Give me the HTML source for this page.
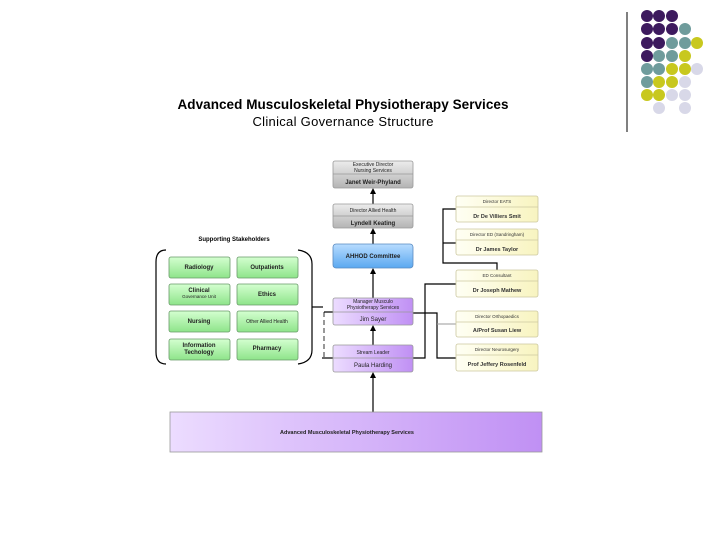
<!DOCTYPE html>
<html><head><meta charset="utf-8"><style>
body{margin:0;background:#fff}
text{font-family:"Liberation Sans",sans-serif}
</style></head><body>
<svg width="720" height="540" xmlns="http://www.w3.org/2000/svg">
<defs>
<linearGradient id="gr" x1="0" y1="0" x2="0" y2="1"><stop offset="0" stop-color="#ececec"/><stop offset="1" stop-color="#b4b4b4"/></linearGradient>
<linearGradient id="bl" x1="0" y1="0" x2="0" y2="1"><stop offset="0" stop-color="#b8dcff"/><stop offset="1" stop-color="#5aa8f0"/></linearGradient>
<linearGradient id="pu" x1="0" y1="0" x2="1" y2="0"><stop offset="0" stop-color="#ecdcff"/><stop offset="1" stop-color="#c090f4"/></linearGradient>
<linearGradient id="gn" x1="0" y1="0" x2="0" y2="1"><stop offset="0" stop-color="#d4ffd0"/><stop offset="1" stop-color="#8ee48a"/></linearGradient>
<linearGradient id="ye" x1="0" y1="0" x2="1" y2="0"><stop offset="0" stop-color="#fffff4"/><stop offset="1" stop-color="#f8f4c0"/></linearGradient>
</defs>
<line x1="627" y1="12" x2="627" y2="132" stroke="#000" stroke-width="1"/>
<g>
<circle cx="647" cy="16" r="6" fill="#3d1a5e"/><circle cx="659" cy="16" r="6" fill="#3d1a5e"/><circle cx="672" cy="16" r="6" fill="#3d1a5e"/>
<circle cx="647" cy="29" r="6" fill="#3d1a5e"/><circle cx="659" cy="29" r="6" fill="#3d1a5e"/><circle cx="672" cy="29" r="6" fill="#3d1a5e"/><circle cx="685" cy="29" r="6" fill="#6f9c9c"/>
<circle cx="647" cy="43" r="6" fill="#3d1a5e"/><circle cx="659" cy="43" r="6" fill="#3d1a5e"/><circle cx="672" cy="43" r="6" fill="#6f9c9c"/><circle cx="685" cy="43" r="6" fill="#6f9c9c"/><circle cx="697" cy="43" r="6" fill="#c8c81e"/>
<circle cx="647" cy="56" r="6" fill="#3d1a5e"/><circle cx="659" cy="56" r="6" fill="#6f9c9c"/><circle cx="672" cy="56" r="6" fill="#6f9c9c"/><circle cx="685" cy="56" r="6" fill="#c8c81e"/>
<circle cx="647" cy="69" r="6" fill="#6f9c9c"/><circle cx="659" cy="69" r="6" fill="#6f9c9c"/><circle cx="672" cy="69" r="6" fill="#c8c81e"/><circle cx="685" cy="69" r="6" fill="#c8c81e"/><circle cx="697" cy="69" r="6" fill="#d8d8e8"/>
<circle cx="647" cy="82" r="6" fill="#6f9c9c"/><circle cx="659" cy="82" r="6" fill="#c8c81e"/><circle cx="672" cy="82" r="6" fill="#c8c81e"/><circle cx="685" cy="82" r="6" fill="#d8d8e8"/>
<circle cx="647" cy="95" r="6" fill="#c8c81e"/><circle cx="659" cy="95" r="6" fill="#c8c81e"/><circle cx="672" cy="95" r="6" fill="#d8d8e8"/><circle cx="685" cy="95" r="6" fill="#d8d8e8"/>
<circle cx="659" cy="108" r="6" fill="#d8d8e8"/><circle cx="685" cy="108" r="6" fill="#d8d8e8"/>
</g>
<text x="343" y="109" text-anchor="middle" font-size="13.5" font-weight="bold" textLength="331">Advanced Musculoskeletal Physiotherapy Services</text>
<text x="343" y="126" text-anchor="middle" font-size="13" textLength="181">Clinical Governance Structure</text>

<!-- connectors -->
<g stroke="#000" stroke-width="1.2" fill="none">
<line x1="373" y1="412" x2="373" y2="374"/>
<line x1="373" y1="345" x2="373" y2="327"/>
<line x1="373" y1="298" x2="373" y2="270"/>
<line x1="373" y1="244" x2="373" y2="230"/>
<line x1="373" y1="204" x2="373" y2="190"/>
<polyline points="312,307 323,307"/>
<line x1="324" y1="312" x2="324" y2="358" stroke-dasharray="5,3" stroke="#555"/>
<line x1="324" y1="312" x2="333" y2="312"/>
<line x1="322" y1="358" x2="333" y2="358"/>
<polyline points="413,313 437,313 437,358 456,358"/>
<polyline points="413,358 425,358 425,284 456,284" />
<polyline points="456,209 443,209 443,263 497,263 497,270"/>
<line x1="443" y1="243" x2="456" y2="243"/>
</g>
<line x1="437" y1="324" x2="456" y2="324" stroke="#999"/>
<g fill="#000">
<polygon points="373,372 370,378 376,378"/><polygon points="373,325 370,331 376,331"/>
<polygon points="373,268 370,274 376,274"/><polygon points="373,228 370,234 376,234"/>
<polygon points="373,188 370,194 376,194"/>
</g>

<!-- center boxes -->
<g stroke="#999" stroke-width="0.8" font-size="5.5" text-anchor="middle">
<rect x="333" y="161" width="80" height="27" rx="2" fill="url(#gr)"/><line x1="333" y1="174" x2="413" y2="174"/>
<rect x="333" y="204" width="80" height="24" rx="2" fill="url(#gr)"/><line x1="333" y1="216" x2="413" y2="216"/>
<rect x="333" y="244" width="80" height="24" rx="3" fill="url(#bl)" stroke="#5a8ac0"/>
<rect x="333" y="298" width="80" height="27" rx="2" fill="url(#pu)"/><line x1="333" y1="312" x2="413" y2="312"/>
<rect x="333" y="345" width="80" height="27" rx="2" fill="url(#pu)"/><line x1="333" y1="358" x2="413" y2="358"/>
<rect x="170" y="412" width="372" height="40" fill="url(#pu)"/>
</g>
<g font-size="5" text-anchor="middle" fill="#222">
<text x="373" y="166">Executive Director</text><text x="373" y="172">Nursing Services</text>
<text x="373" y="184" font-size="6" font-weight="bold">Janet Weir-Phyland</text>
<text x="373" y="212">Director Allied Health</text>
<text x="373" y="225" font-size="6" font-weight="bold">Lyndell Keating</text>
<text x="373" y="258" font-size="6" font-weight="bold">AHHOD Committee</text>
<text x="373" y="303">Manager Musculo</text><text x="373" y="309">Physiotherapy Services</text>
<text x="373" y="321" font-size="6">Jim Sayer</text>
<text x="373" y="354">Stream Leader</text>
<text x="373" y="367" font-size="6">Paula Harding</text>
<text x="347" y="434" font-size="5.5" font-weight="bold">Advanced Musculoskeletal Physiotherapy Services</text>
</g>

<!-- stakeholders -->
<text x="234" y="241" font-size="6" font-weight="bold" text-anchor="middle">Supporting Stakeholders</text>
<path d="M166,250 Q156,250 156,262 L156,352 Q156,364 166,364" fill="none" stroke="#000" stroke-width="1.2"/>
<path d="M298,250 Q312,252 312,264 L312,350 Q312,362 298,364" fill="none" stroke="#000" stroke-width="1.2"/>
<g stroke="#6a9a6a" stroke-width="0.8" fill="url(#gn)">
<rect x="169" y="257" width="61" height="21" rx="2"/><rect x="237" y="257" width="61" height="21" rx="2"/>
<rect x="169" y="284" width="61" height="21" rx="2"/><rect x="237" y="284" width="61" height="21" rx="2"/>
<rect x="169" y="311" width="61" height="21" rx="2"/><rect x="237" y="311" width="61" height="21" rx="2"/>
<rect x="169" y="339" width="61" height="21" rx="2"/><rect x="237" y="339" width="61" height="21" rx="2"/>
</g>
<g font-size="6" font-weight="bold" text-anchor="middle" fill="#222">
<text x="199" y="269">Radiology</text><text x="267" y="269">Outpatients</text>
<text x="199" y="292">Clinical</text><text x="199" y="298" font-size="4.5" font-weight="normal">Governance Unit</text><text x="267" y="296">Ethics</text>
<text x="199" y="323">Nursing</text><text x="267" y="323" font-size="5" font-weight="normal">Other Allied Health</text>
<text x="199" y="347">Information</text><text x="199" y="354">Techology</text><text x="267" y="350">Pharmacy</text>
</g>

<!-- right boxes -->
<g stroke="#ccc8a0" stroke-width="0.8" fill="url(#ye)">
<rect x="456" y="196" width="82" height="26" rx="2"/><line x1="456" y1="207" x2="538" y2="207"/>
<rect x="456" y="229" width="82" height="26" rx="2"/><line x1="456" y1="240" x2="538" y2="240"/>
<rect x="456" y="270" width="82" height="27" rx="2"/><line x1="456" y1="281" x2="538" y2="281"/>
<rect x="456" y="311" width="82" height="26" rx="2"/><line x1="456" y1="322" x2="538" y2="322"/>
<rect x="456" y="344" width="82" height="27" rx="2"/><line x1="456" y1="355" x2="538" y2="355"/>
</g>
<g font-size="4.5" text-anchor="middle" fill="#333">
<text x="497" y="203">Director EATS</text>
<text x="497" y="218" font-size="5.5" font-weight="bold">Dr De Villiers Smit</text>
<text x="497" y="236">Director ED (Sandringham)</text>
<text x="497" y="251" font-size="5.5" font-weight="bold">Dr James Taylor</text>
<text x="497" y="277">ED Consultant</text>
<text x="497" y="292" font-size="5.5" font-weight="bold">Dr Joseph Mathew</text>
<text x="497" y="318">Director Orthopaedics</text>
<text x="497" y="332" font-size="5.5" font-weight="bold">A/Prof Susan Liew</text>
<text x="497" y="351">Director Neurosurgery</text>
<text x="497" y="366" font-size="5.5" font-weight="bold">Prof Jeffery Rosenfeld</text>
</g>
</svg>
</body></html>
